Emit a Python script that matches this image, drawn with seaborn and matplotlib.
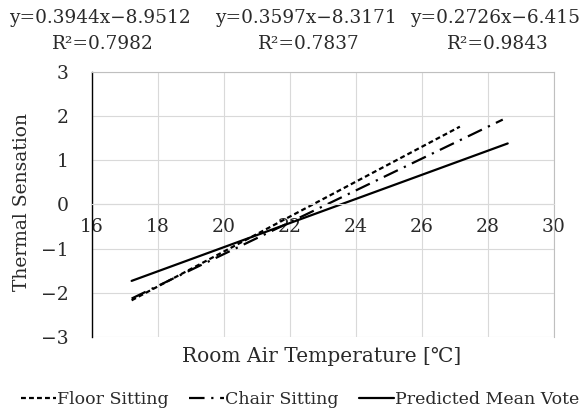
import matplotlib
matplotlib.use("Agg")
import matplotlib.pyplot as plt
import seaborn as sns
import pandas as pd
from matplotlib.lines import Line2D

sns.set_theme(style="white")
plt.rcParams['font.family'] = ['DejaVu Serif', 'DejaVu Sans']
plt.rcParams['axes.unicode_minus'] = True

# Data (trendline end points)
series_names = ["Floor Sitting", "Chair Sitting", "Predicted Mean Vote"]
floor_x = [17.2, 27.15]
floor_y = [-2.17, 1.76]
chair_x = [17.2, 28.45]
chair_y = [-2.13, 1.92]
pmv_x = [17.2, 28.6]
pmv_y = [-1.73, 1.38]
equations = ["y=0.3944x\u22128.9512", "y=0.3597x\u22128.3171", "y=0.2726x\u22126.415"]
r_squared = ["R\u00b2=0.7982", "R\u00b2=0.7837", "R\u00b2=0.9843"]
x_ticks = [16, 18, 20, 22, 24, 26, 28, 30]
y_ticks = [-3, -2, -1, 0, 1, 2, 3]

df = pd.concat([
    pd.DataFrame({"x": floor_x, "y": floor_y, "s": series_names[0]}),
    pd.DataFrame({"x": chair_x, "y": chair_y, "s": series_names[1]}),
    pd.DataFrame({"x": pmv_x, "y": pmv_y, "s": series_names[2]}),
])

styles = {
    series_names[0]: (0, (2.2, 1.4)),
    series_names[1]: (0, (7, 3, 1, 3)),
    series_names[2]: "-",
}

TXT = "#2a2a2a"
fig = plt.figure(figsize=(5.88, 4.13), dpi=100)
ax = fig.add_axes([0.1565, 0.184, 0.7855, 0.642])

for name in series_names:
    sub = df[df["s"] == name]
    sns.lineplot(data=sub, x="x", y="y", ax=ax, color="black", linewidth=1.6,
                 linestyle=styles[name], legend=False)

ax.set_xlim(16, 30)
ax.set_ylim(-3, 3)
ax.set_xticks(x_ticks)
ax.set_yticks(y_ticks)
ax.grid(True, color="#d9d9d9", linewidth=0.8)
ax.set_axisbelow(True)

for side in ["top", "right", "bottom"]:
    ax.spines[side].set_color("#bfbfbf")
    ax.spines[side].set_linewidth(0.8)
ax.spines["left"].set_color("black")
ax.spines["left"].set_linewidth(1.0)
ax.spines["bottom"].set_position(("data", 0))
ax.spines["bottom"].set_color("#d9d9d9")

ax.tick_params(axis="x", length=0, pad=10, labelsize=13.5, colors=TXT)
ax.tick_params(axis="y", length=0, pad=17, labelsize=13.5, colors=TXT)
ax.set_xlabel("")
ax.set_ylabel("")

fig.text(22 / 588, 1 - 202 / 413, "Thermal Sensation", rotation=90, ha="center", va="center",
         fontsize=13.5, color=TXT)
fig.text(322 / 588, 1 - 356 / 413, "Room Air Temperature [\u2103]", ha="center", va="center",
         fontsize=14.5, color=TXT)

eq_x = [100, 306, 495]
for xe, eq, r2 in zip(eq_x, equations, r_squared):
    fig.text(xe / 588, 1 - 18 / 413, eq, ha="center", va="center", fontsize=13.3, color=TXT)
    fig.text((xe + 3) / 588, 1 - 44 / 413, r2, ha="center", va="center", fontsize=13.3, color=TXT)

handles = [Line2D([0], [0], color="black", linewidth=1.6, linestyle=styles[n]) for n in series_names]
fig.legend(handles, series_names, loc="center", bbox_to_anchor=(300 / 588, 1 - 400 / 413), ncol=3,
           frameon=False, fontsize=12.5, handlelength=2.0, handletextpad=0.05, columnspacing=1.2,
           labelcolor=TXT, borderpad=0, borderaxespad=0)

fig.savefig("out.png", dpi=100)
